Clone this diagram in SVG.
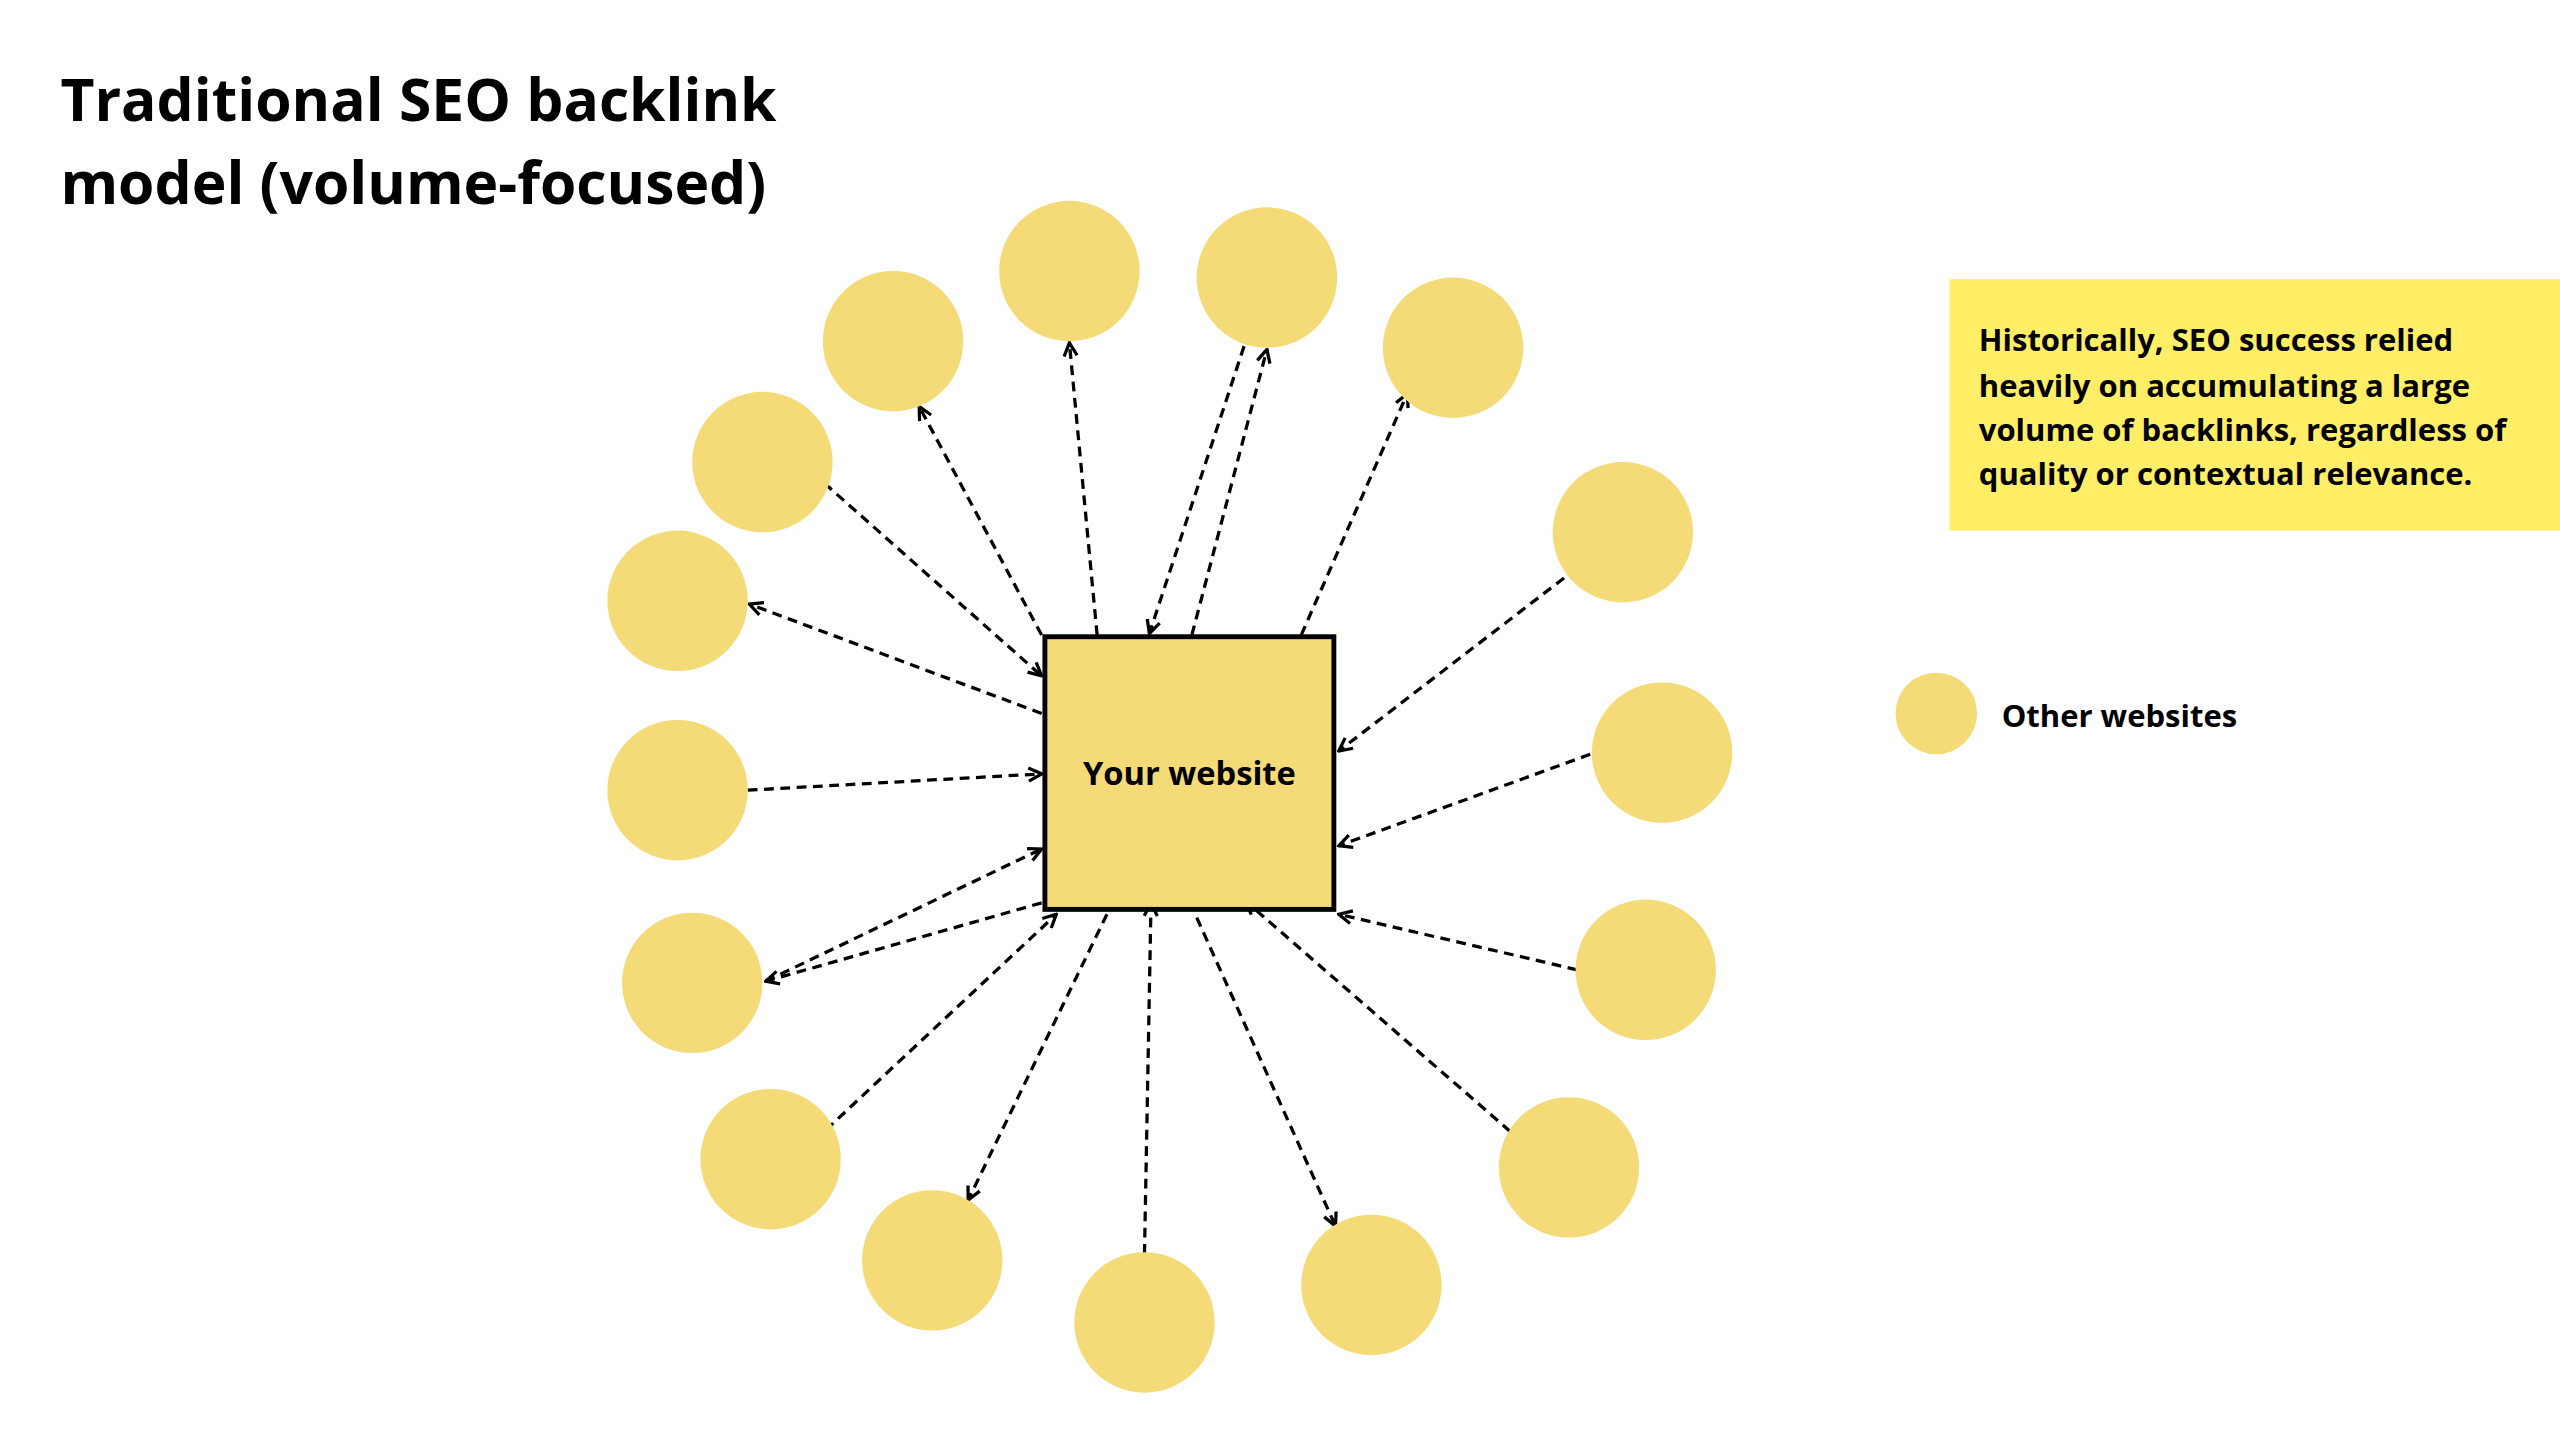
<svg xmlns="http://www.w3.org/2000/svg" width="2560" height="1440" viewBox="0 0 2560 1440">
<style>
.site{fill:#F4DB78}
.ln{stroke:#000;stroke-width:2;stroke-dasharray:6 4;fill:none}
.arr{marker-end:url(#ah)}
text{font-family:"Open Sans","Liberation Sans",sans-serif;font-weight:700;fill:#000}
</style>
<defs>
<marker id="ah" viewBox="0 0 10 10" refX="9" refY="5" markerWidth="5" markerHeight="5" orient="auto" markerUnits="strokeWidth">
<path d="M1,1 L9,5 L1,9" fill="none" stroke="#000" stroke-width="2" stroke-dasharray="none"/>
</marker>
</defs>
<rect width="2560" height="1440" fill="#fff"/>
<g transform="scale(1.63265)">
<g id="title"><text x="37" y="74" font-size="36">Traditional SEO backlink</text><text x="37" y="125" font-size="36">model (volume-focused)</text></g>
<g id="callout"><rect x="1194" y="171" width="380" height="154" fill="#FFEE66"/>
<text font-size="19"><tspan x="1212" y="215">Historically, SEO success relied</tspan><tspan x="1212" y="243">heavily on accumulating a large</tspan><tspan x="1212" y="270">volume of backlinks, regardless of</tspan><tspan x="1212" y="297">quality or contextual relevance.</tspan></text></g>
<g id="legend"><circle class="site" cx="1186" cy="437" r="25"/><text x="1226" y="445" font-size="19">Other websites</text></g>
<g id="connectors">
<line class="ln arr" x1="505" y1="296" x2="638" y2="414"/>
<line class="ln arr" x1="638" y1="389" x2="563" y2="249"/>
<line class="ln arr" x1="672" y1="389" x2="655" y2="210"/>
<line class="ln arr" x1="762" y1="212" x2="704" y2="388"/>
<line class="ln arr" x1="730" y1="389" x2="776" y2="214"/>
<line class="ln arr" x1="797" y1="389" x2="862" y2="241"/>
<line class="ln arr" x1="638" y1="437" x2="459" y2="370"/>
<line class="ln arr" x1="958" y1="354" x2="820" y2="460"/>
<line class="ln arr" x1="458" y1="484" x2="638" y2="474"/>
<line class="ln arr" x1="974" y1="462" x2="820" y2="518"/>
<line class="ln arr" x1="469" y1="601" x2="638" y2="520"/>
<line class="ln arr" x1="638" y1="553" x2="469" y2="601"/>
<line class="ln arr" x1="966" y1="594" x2="820" y2="560"/>
<line class="ln arr" x1="506" y1="692" x2="647" y2="560"/>
<line class="ln arr" x1="678" y1="560" x2="593" y2="735"/>
<line class="ln arr" x1="701" y1="768" x2="705" y2="553"/>
<line class="ln arr" x1="733" y1="562" x2="818" y2="751"/>
<line class="ln arr" x1="925" y1="693" x2="763" y2="552"/>
</g>
<g id="box"><rect x="640" y="390" width="177" height="167" fill="#F4DB78" stroke="#000" stroke-width="3"/><text x="728.5" y="481" font-size="20" text-anchor="middle">Your website</text></g>
<g id="s1"><circle class="site" cx="547" cy="209" r="43"/></g>
<g id="s2"><circle class="site" cx="655" cy="166" r="43"/></g>
<g id="s3"><circle class="site" cx="776" cy="170" r="43"/></g>
<g id="s4"><circle class="site" cx="890" cy="213" r="43"/></g>
<g id="s5"><circle class="site" cx="467" cy="283" r="43"/></g>
<g id="s6"><circle class="site" cx="415" cy="368" r="43"/></g>
<g id="s7"><circle class="site" cx="994" cy="326" r="43"/></g>
<g id="s8"><circle class="site" cx="415" cy="484" r="43"/></g>
<g id="s9"><circle class="site" cx="1018" cy="461" r="43"/></g>
<g id="s10"><circle class="site" cx="424" cy="602" r="43"/></g>
<g id="s11"><circle class="site" cx="1008" cy="594" r="43"/></g>
<g id="s12"><circle class="site" cx="472" cy="710" r="43"/></g>
<g id="s13"><circle class="site" cx="961" cy="715" r="43"/></g>
<g id="s14"><circle class="site" cx="571" cy="772" r="43"/></g>
<g id="s15"><circle class="site" cx="840" cy="787" r="43"/></g>
<g id="s16"><circle class="site" cx="701" cy="810" r="43"/></g>
</g>
</svg>
